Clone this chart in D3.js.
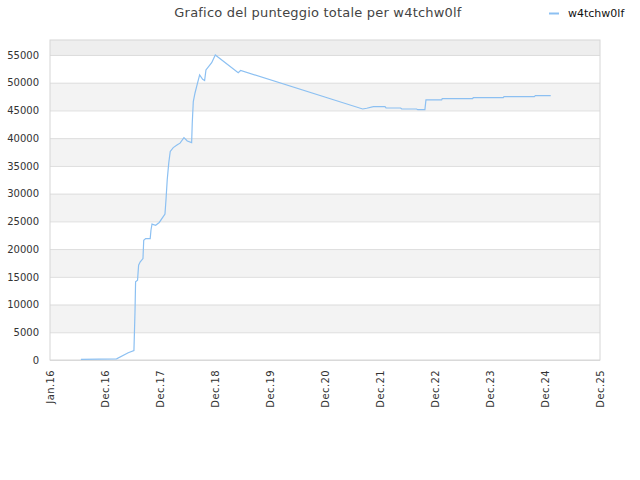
<!DOCTYPE html>
<html>
<head>
<meta charset="utf-8">
<script src="https://cdn.jsdelivr.net/npm/d3@7"></script>
<style>
  body { margin: 0; background: #fff; }
  svg { display: block; font-family: "DejaVu Sans", sans-serif; }
</style>
</head>
<body>
<script>
// data van de grafiek
var dates = ["2016-07-24", "2017-03-18", "2017-06-03", "2017-07-11", "2017-07-18", "2017-07-22",
  "2017-08-04", "2017-08-11", "2017-08-22", "2017-09-09", "2017-09-14", "2017-09-27", "2017-10-27",
  "2017-11-01", "2017-11-08", "2017-12-02", "2017-12-26", "2018-02-02", "2018-02-09", "2018-02-17",
  "2018-02-27", "2018-03-09", "2018-03-29", "2018-04-25", "2018-05-13", "2018-06-08", "2018-06-30",
  "2018-07-29", "2018-08-02", "2018-08-09", "2018-08-20", "2018-08-31", "2018-09-20", "2018-10-10",
  "2018-10-23", "2018-11-01", "2018-12-09", "2019-01-02", "2019-06-03", "2019-06-19", "2021-09-06",
  "2021-10-03", "2021-11-16", "2022-02-01", "2022-02-08", "2022-05-16", "2022-05-23", "2022-08-30",
  "2022-09-06", "2022-10-24", "2022-10-31", "2023-02-12", "2023-02-16", "2023-09-06", "2023-09-10",
  "2024-03-27", "2024-04-01", "2024-10-19", "2024-10-26", "2025-02-05"];
var scores = [120, 200, 1300, 1700, 8600, 14100,
  14400, 17100, 17700, 18300, 21600, 21900, 21900,
  23400, 24500, 24300, 24800, 26300, 29000, 32500,
  35500, 37600, 38300, 38800, 39100, 40100, 39500,
  39200, 42700, 46600, 48100, 49300, 51400, 50600,
  50400, 52300, 53600, 55000, 51800, 52200, 45260,
  45390, 45680, 45680, 45440, 45440, 45260, 45260,
  45140, 45140, 46890, 46890, 47120, 47120, 47300,
  47300, 47480, 47480, 47660, 47660];
var yTicks = [0, 5000, 10000, 15000, 20000, 25000, 30000, 35000, 40000, 45000, 50000, 55000];
var xTickDates = ["2016-01-01", "2016-12-31", "2017-12-31", "2018-12-31", "2019-12-31", "2020-12-30",
  "2021-12-30", "2022-12-30", "2023-12-30", "2024-12-29", "2025-12-29"];
var xTickLabels = ["Jan.16", "Dec.16", "Dec.17", "Dec.18", "Dec.19", "Dec.20",
  "Dec.21", "Dec.22", "Dec.23", "Dec.24", "Dec.25"];
var yMax = 57700;
var title = "Grafico del punteggio totale per w4tchw0lf";
var serieName = "w4tchw0lf";

var lineColor = "#8cc0f2";

var margin = {top: 40, right: 40, bottom: 120, left: 50},
    width = 640 - margin.left - margin.right,
    height = 480 - margin.top - margin.bottom;

var parse = d3.utcParse("%Y-%m-%d");
var data = dates.map(function(d, i) { return {x: parse(d), y: scores[i]}; });
var tickDates = xTickDates.map(parse);

var xScale = d3.scaleUtc()
    .domain([tickDates[0], tickDates[tickDates.length - 1]])
    .range([0, width]);

var yScale = d3.scaleLinear()
    .domain([0, yMax])
    .range([height, 0]);

var svg = d3.select("body").append("svg")
    .attr("width", 640)
    .attr("height", 480);

var g = svg.append("g")
    .attr("transform", "translate(" + margin.left + "," + margin.top + ")");

// achtergrond banden, afwisselend wit en grijs
var bands = yTicks.map(function(t, i) {
  var top = i < yTicks.length - 1 ? yTicks[i + 1] : yMax;
  return {y0: t, y1: top, i: i};
});

g.selectAll(".band")
    .data(bands)
    .enter().append("rect")
    .attr("class", "band")
    .attr("x", 0)
    .attr("width", width)
    .attr("y", function(d) { return yScale(d.y1); })
    .attr("height", function(d) { return yScale(d.y0) - yScale(d.y1); })
    .attr("fill", function(d) {
      if (d.i == yTicks.length - 1) return "#eeeeee";
      return d.i % 2 == 1 ? "#f3f3f3" : "#ffffff";
    });

var yAxis = d3.axisLeft(yScale)
    .tickValues(yTicks)
    .tickSizeInner(-width)
    .tickSizeOuter(0)
    .tickPadding(11)
    .tickFormat(function(d) { return d; });

var gy = g.append("g")
    .attr("class", "y axis")
    .call(yAxis);
gy.select(".domain").remove();
gy.selectAll(".tick line").attr("stroke", "#dddddd");
gy.selectAll(".tick text")
    .attr("fill", "#333")
    .attr("font-size", 10)
    .attr("font-family", "DejaVu Sans, sans-serif");

var xAxis = d3.axisBottom(xScale)
    .tickValues(tickDates)
    .tickSize(0)
    .tickFormat(function(d, i) { return xTickLabels[i]; });

var gx = g.append("g")
    .attr("class", "x axis")
    .attr("transform", "translate(0," + height + ")")
    .call(xAxis);
gx.select(".domain").remove();
gx.selectAll(".tick text")
    .attr("fill", "#333")
    .attr("font-size", 10)
    .attr("font-family", "DejaVu Sans, sans-serif")
    .attr("text-anchor", "end")
    .attr("transform", "rotate(-90)")
    .attr("x", -10)
    .attr("y", 0)
    .attr("dy", "0.35em")
    .style("letter-spacing", "0.4px");

// rand om het plotgebied
g.append("rect")
    .attr("x", 0)
    .attr("y", 0)
    .attr("width", width)
    .attr("height", height)
    .attr("fill", "none")
    .attr("stroke", "#d6d6d6");

var line = d3.line()
    .x(function(d) { return xScale(d.x); })
    .y(function(d) { return yScale(d.y); });

g.append("path")
    .datum(data)
    .attr("class", "line")
    .attr("fill", "none")
    .attr("stroke", lineColor)
    .attr("stroke-width", 1.2)
    .attr("d", line);

// titel en legenda
svg.append("text")
    .attr("x", 318)
    .attr("y", 17)
    .attr("text-anchor", "middle")
    .attr("font-size", 13)
    .attr("fill", "#444")
    .style("letter-spacing", "0.2px")
    .text(title);

svg.append("line")
    .attr("x1", 549)
    .attr("x2", 559)
    .attr("y1", 13.5)
    .attr("y2", 13.5)
    .attr("stroke", lineColor)
    .attr("stroke-width", 2);

svg.append("text")
    .attr("x", 568)
    .attr("y", 17)
    .attr("font-size", 11)
    .attr("fill", "#111")
    .text(serieName);
</script>
</body>
</html>
